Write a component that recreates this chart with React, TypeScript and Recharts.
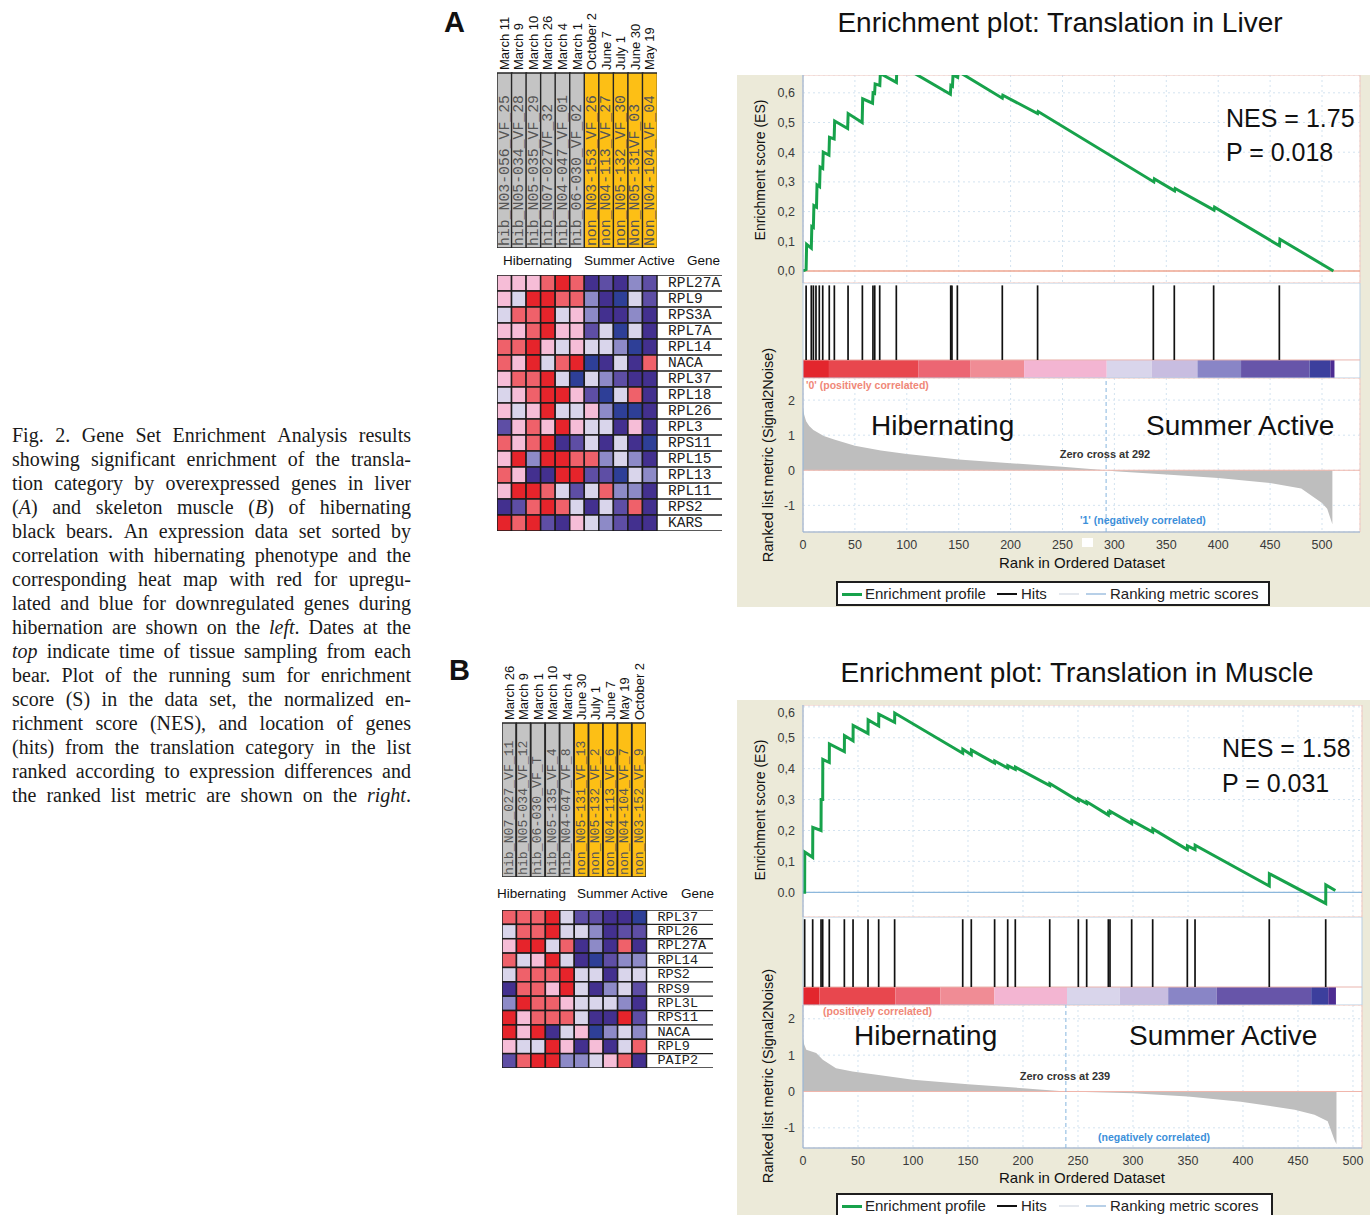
import {
  Area,
  AreaChart,
  Bar,
  BarChart,
  CartesianGrid,
  Cell,
  ComposedChart,
  LabelList,
  Line,
  LineChart,
  ReferenceArea,
  ReferenceLine,
  Scatter,
  ScatterChart,
  XAxis,
  YAxis,
} from 'recharts'

const SANS = '"Liberation Sans", Arial, sans-serif'
const MONO = '"Liberation Mono", monospace'
const SERIF = '"Liberation Serif", "Times New Roman", serif'

const BEIGE = '#ECEAD9'
const GRID = '#D3E3F0'
const AXIS_BLUE = '#8DB8DC'
const FRAME_PINK = '#F2C6BC'
const GREEN = '#17A24B'

// caption, one entry per printed line; *word* is italic
const captionLines = [
  'Fig. 2. Gene Set Enrichment Analysis results',
  'showing significant enrichment of the transla-',
  'tion category by overexpressed genes in liver',
  '(*A*) and skeleton muscle (*B*) of hibernating',
  'black bears. An expression data set sorted by',
  'correlation with hibernating phenotype and the',
  'corresponding heat map with red for upregu-',
  'lated and blue for downregulated genes during',
  'hibernation are shown on the *left*. Dates at the',
  '*top* indicate time of tissue sampling from each',
  'bear. Plot of the running sum for enrichment',
  'score (S) in the data set, the normalized en-',
  'richment score (NES), and location of genes',
  '(hits) from the translation category in the list',
  'ranked according to expression differences and',
  'the ranked list metric are shown on the *right*.',
]

// heat map A (liver)
const datesA = ['March 11', 'March 9', 'March 10', 'March 26', 'March 4', 'March 1', 'October 2', 'June 7', 'July 1', 'June 30', 'May 19']
const samplesA = [
  'hib_N03-056_VF_25', 'hib_N05-034_VF_28', 'hib_N05-035_VF_29', 'hib_N07-027VF_32',
  'hib_N04-047_VF_01', 'hib_06-030_VF_02', 'non_N03-153_VF_26', 'non_N04-113_VF_27',
  'non_N05-132_VF_30', 'Non_N05-131VF_03', 'Non_N04-104_VF_04',
]
const groupsA = ['hib', 'hib', 'hib', 'hib', 'hib', 'hib', 'non', 'non', 'non', 'non', 'non']
const genesA = ['RPL27A', 'RPL9', 'RPS3A', 'RPL7A', 'RPL14', 'NACA', 'RPL37', 'RPL18', 'RPL26', 'RPL3', 'RPS11', 'RPL15', 'RPL13', 'RPL11', 'RPS2', 'KARS']
const cellsA = [
  [1, 1, 1, 2, 3, 2, -3, -2, -3, -1, -2],
  [1, 0, 3, 3, 2, 2, -1, -3, -4, 0, -2],
  [0, 2, 2, 3, 0, 1, -1, -3, -3, -1, -3],
  [1, 1, 2, 3, 1, 1, -2, 0, -4, 0, -3],
  [2, 2, 3, 1, 0, 1, 0, 0, -1, -4, -3],
  [2, 1, 3, 0, 2, 3, -4, -3, 0, -3, 2],
  [1, 2, 2, 3, 0, -4, 0, -1, -2, -3, -3],
  [0, 1, 2, 3, 3, 1, -2, -4, 0, 2, -3],
  [1, 0, 1, 3, 0, 0, 1, -1, -4, -4, -3],
  [-2, 1, 2, 1, 3, 1, 0, 0, -3, 1, -3],
  [2, 1, 2, 3, -3, -2, 0, -3, 0, -3, -4],
  [1, 3, -1, 3, 3, 2, 2, -1, 0, -1, -3],
  [2, 1, -3, -3, 3, 3, -2, -2, -4, 0, -1],
  [1, 3, 3, 2, 0, -2, 0, 2, -1, -1, -3],
  [-3, -2, 2, 3, 2, 0, -3, 0, -2, 2, -3],
  [3, 2, 3, -2, -3, 1, 0, -1, -2, -3, -3],
]

// heat map B (muscle)
const datesB = ['March 26', 'March 9', 'March 1', 'March 10', 'March 4', 'June 30', 'July 1', 'June 7', 'May 19', 'October 2']
const samplesB = [
  'hib_N07_027_VF_11', 'hib_N05-034_VF_12', 'hib_06-030_VF_T', 'hib_N05-135_VF_4',
  'hib_N04-047_VF_8', 'non_N05-131_VF_13', 'non_N05-132_VF_2', 'non_N04-113_VF_6',
  'non_N04-104_VF_7', 'non_N03-152_VF_9',
]
const groupsB = ['hib', 'hib', 'hib', 'hib', 'hib', 'non', 'non', 'non', 'non', 'non']
const genesB = ['RPL37', 'RPL26', 'RPL27A', 'RPL14', 'RPS2', 'RPS9', 'RPL3L', 'RPS11', 'NACA', 'RPL9', 'PAIP2']
const cellsB = [
  [2, 2, 2, 3, 0, -2, -2, -3, -3, -4],
  [0, 2, 2, 3, 0, 0, -1, -3, -2, -2],
  [1, 3, 3, 0, 2, -3, -1, -3, 2, -3],
  [2, 0, 1, 3, 0, -3, -4, -2, -1, -1],
  [0, 2, 2, 2, 3, 0, 0, -3, 0, 0],
  [-3, 2, 2, 1, 3, 0, -3, -1, 0, -2],
  [-1, 3, 2, 2, 1, 0, 0, 0, -1, -3],
  [3, 1, 2, 2, 2, 0, -3, -3, 3, -2],
  [3, 1, 3, -3, 0, 1, -4, -1, 0, -1],
  [1, 0, 0, 3, 1, -3, 1, -3, 0, 2],
  [-2, 2, 3, 3, -1, -1, 0, 1, 2, -3],
]

// enrichment plots
const rankTicks = [0, 50, 100, 150, 200, 250, 300, 350, 400, 450, 500]
const esTicks = [0, 0.1, 0.2, 0.3, 0.4, 0.5, 0.6]
const metricTicks = [-1, 0, 1, 2]

const esA: [number, number][] = [
  [0, 0], [3, 0.005], [3.5, 0.09], [8, 0.077], [8.5, 0.15], [10, 0.147], [10.5, 0.22],
  [13, 0.215], [13.5, 0.29], [16, 0.284], [16.5, 0.35], [19, 0.345], [19.5, 0.4],
  [25, 0.39], [25.5, 0.45], [30, 0.445], [30.5, 0.505], [43, 0.48], [43.5, 0.53],
  [57, 0.5], [57.5, 0.58], [67, 0.565], [67.5, 0.6], [69, 0.598], [69.5, 0.63],
  [74, 0.625], [74.5, 0.665], [90, 0.635], [90.5, 0.7], [142, 0.595], [142.5, 0.625],
  [144, 0.622], [144.5, 0.66], [149, 0.652], [149.5, 0.672], [192, 0.582], [192.5, 0.592],
  [226, 0.53], [226.5, 0.537], [338, 0.3], [338.5, 0.31], [358, 0.27], [358.5, 0.278],
  [396, 0.205], [396.5, 0.215], [459, 0.085], [459.5, 0.107], [511, 0],
]
const hitsA = [3, 8, 10, 12.5, 15.7, 19, 25.3, 30.2, 43.4, 57.2, 67.4, 69.1, 73.9, 89.9, 142.3, 143.5, 148.7, 192, 226, 337.5, 357.7, 395.6, 458.9]
const metricA: [number, number][] = [
  [0, 1.78], [1, 1.6], [3, 1.4], [6, 1.26], [10, 1.15], [20, 0.98], [30, 0.88], [50, 0.7],
  [75, 0.56], [100, 0.46], [150, 0.31], [200, 0.2], [250, 0.1], [292, 0], [300, -0.03],
  [350, -0.12], [400, -0.22], [450, -0.36], [480, -0.52], [500, -0.93], [505, -1.1], [510, -1.54],
]
// colour bar: [from rank, to rank, metric level]
const barA: [number, number, number][] = [
  [0, 25, 5], [25, 111, 4], [111, 161, 3], [161, 213, 2], [213, 292.6, 1], [292.6, 336, 0],
  [336, 380, -1], [380, 422, -2], [422, 488, -3], [488, 508, -4], [508, 512, -5],
]

const esB: [number, number][] = [
  [0, 0], [1.5, 0], [1.6, 0.13], [8.8, 0.113], [8.9, 0.21], [16.4, 0.2], [16.5, 0.3],
  [17.9, 0.3], [18, 0.43], [23.9, 0.42], [24, 0.48], [37.6, 0.455], [37.7, 0.507],
  [45.5, 0.49], [45.6, 0.54], [59.1, 0.514], [59.2, 0.558], [68.8, 0.538], [68.9, 0.576],
  [83.3, 0.55], [83.4, 0.58], [145.2, 0.45], [145.3, 0.463], [153, 0.445], [153.1, 0.46],
  [174.2, 0.418], [174.3, 0.425], [186.1, 0.402], [186.2, 0.41], [193, 0.398], [193.1, 0.405],
  [224.3, 0.345], [224.4, 0.352], [250.3, 0.296], [250.4, 0.302], [257.9, 0.287], [258, 0.293],
  [277.6, 0.25], [277.7, 0.258], [279.1, 0.256], [279.2, 0.262], [298.8, 0.222], [298.9, 0.232],
  [317.9, 0.195], [318, 0.205], [349.4, 0.138], [349.5, 0.15], [356.4, 0.138], [356.5, 0.152],
  [423.9, 0.02], [424, 0.06], [475.2, -0.036], [475.3, 0.024], [484, 0.006],
]
const hitsB = [1.5, 8.8, 16.4, 17.9, 23.9, 37.6, 45.5, 59.1, 68.8, 83.3, 145.2, 153, 174.2, 186.1, 193, 224.3, 250.3, 257.9, 277.6, 279.1, 298.8, 317.9, 349.4, 356.4, 423.9, 475.2]
const metricB: [number, number][] = [
  [0, 1.47], [1, 1.3], [3, 1.15], [12, 1.06], [18, 0.87], [30, 0.64], [45, 0.55], [67, 0.46],
  [100, 0.32], [150, 0.2], [200, 0.09], [239, 0], [300, -0.05], [350, -0.14], [398, -0.28],
  [447, -0.5], [465, -0.64], [477, -0.82], [483, -1.32], [485, -1.45],
]
const barB: [number, number, number][] = [
  [0, 15, 5], [15, 84, 4], [84, 125, 3], [125, 174, 2], [174, 240, 1], [240, 288, 0],
  [288, 332, -1], [332, 376, -2], [376, 462, -3], [462, 477.5, -4], [477.5, 484.5, -5],
]

const barColors: Record<number, string> = {
  5: '#E3262D', 4: '#E8474E', 3: '#EC6673', 2: '#F08C95', 1: '#F3B5D2', 0: '#D9D5EB',
  [-1]: '#C8BDE0', [-2]: '#8985C6', [-3]: '#6755A9', [-4]: '#3C3F9D', [-5]: '#4D2C92',
}

const heatColors: Record<number, string> = {
  3: '#E6242B', 2: '#EF616A', 1: '#F6BDD7', 0: '#D9D5EB',
  [-1]: '#8D8AC7', [-2]: '#5E4EA5', [-3]: '#43308F', [-4]: '#2E3F97',
}

const commaTick = (v: number) => v.toFixed(1).replace('.', ',')

interface PlotSpec {
  top: number
  height: number
  esTop: number
  esHeight: number
  esDomain: [number, number]
  esZeroColor: string
  esTickFormat: (v: number) => string
  xMax: number
  right: number
  hitsHeight: number
  barFrac: number
  metricPlotHeight: number
  metricDomain: [number, number]
  zeroCross: number
  es: [number, number][]
  hits: number[]
  metric: [number, number][]
  bar: [number, number, number][]
}

const plotA: PlotSpec = {
  top: 75,
  height: 532,
  esTop: 0,
  esHeight: 208,
  esDomain: [-0.0404, 0.66],
  esZeroColor: '#EFA690',
  esTickFormat: commaTick,
  xMax: 536.6,
  right: 10,
  hitsHeight: 95,
  barFrac: 0.19,
  metricPlotHeight: 154,
  metricDomain: [-1.76, 2.63],
  zeroCross: 292,
  es: esA,
  hits: hitsA,
  metric: metricA,
  bar: barA,
}

const plotB: PlotSpec = {
  top: 700,
  height: 515,
  esTop: 5,
  esHeight: 212,
  esDomain: [-0.08, 0.606],
  esZeroColor: '#8DB8DC',
  esTickFormat: (v) => (v === 0 ? '0.0' : commaTick(v)),
  xMax: 508.2,
  right: 8,
  hitsHeight: 88,
  barFrac: 0.2045,
  metricPlotHeight: 143,
  metricDomain: [-1.555, 2.38],
  zeroCross: 239,
  es: esB,
  hits: hitsB,
  metric: metricB,
  bar: barB,
}

const tickStyle = { fontSize: 12.5, fill: '#3a3a3a', fontFamily: SANS }

function Txt({
  x,
  y,
  size,
  children,
  anchor = 'start',
  color = '#111',
  weight = 400,
  family = SANS,
  rotate = false,
}: {
  x: number
  y: number
  size: number
  children: React.ReactNode
  anchor?: 'start' | 'middle'
  color?: string
  weight?: number
  family?: string
  rotate?: boolean
}) {
  const shiftX = anchor === 'middle' || rotate ? '-50%' : '0'
  return (
    <div
      style={{
        position: 'absolute',
        left: x,
        top: y,
        fontSize: size,
        lineHeight: 1,
        color,
        fontWeight: weight,
        fontFamily: family,
        whiteSpace: 'nowrap',
        transform: `translate(${shiftX}, -50%)${rotate ? ' rotate(-90deg)' : ''}`,
      }}
    >
      {children}
    </div>
  )
}

function Caption() {
  return (
    <div style={{ position: 'absolute', left: 12, top: 423, width: 399, fontFamily: SERIF, fontSize: 20, color: '#1a1a1a' }}>
      {captionLines.map((line, i) => (
        <div key={i} style={{ display: 'flex', justifyContent: 'space-between', height: 24, lineHeight: '24px', whiteSpace: 'nowrap' }}>
          {line.split(' ').map((word, j) => (
            <span key={j}>
              {word.split('*').map((part, k) => (k % 2 === 1 ? <i key={k}>{part}</i> : <span key={k}>{part}</span>))}
            </span>
          ))}
        </div>
      ))}
    </div>
  )
}

function DateTick({ x, y, payload }: any) {
  return (
    <text
      x={x}
      y={y}
      transform={`rotate(-90 ${x} ${y})`}
      textAnchor="start"
      dominantBaseline="central"
      fontFamily={SANS}
      fontSize={13}
      fill="#111"
    >
      {payload.value}
    </text>
  )
}

function SampleText(props: any) {
  const vb = props.viewBox ?? props
  const x = vb.x + vb.width / 2
  const y = vb.y + vb.height - 2
  return (
    <text
      x={x}
      y={y}
      transform={`rotate(-90 ${x} ${y})`}
      textAnchor="start"
      dominantBaseline="central"
      fontFamily={MONO}
      fontSize={props.size}
      fill="#555"
    >
      {props.value}
    </text>
  )
}

function HeatHeader({
  dates,
  samples,
  groups,
  left,
  top,
  width,
  axisH,
  barH,
  sampleSize,
}: {
  dates: string[]
  samples: string[]
  groups: string[]
  left: number
  top: number
  width: number
  axisH: number
  barH: number
  sampleSize: number
}) {
  const rows = dates.map((date, i) => ({ date, sample: samples[i], group: groups[i], full: 1 }))
  return (
    <div style={{ position: 'absolute', left, top }}>
      <BarChart width={width} height={axisH + barH} data={rows} margin={{ top: 0, right: 0, bottom: 0, left: 0 }} barCategoryGap={0} barGap={0}>
        <XAxis
          dataKey="date"
          orientation="top"
          height={axisH}
          axisLine={false}
          tickLine={false}
          tickSize={0}
          tickMargin={3}
          interval={0}
          tick={(p: any) => <DateTick {...p} />}
        />
        <YAxis hide domain={[0, 1]} />
        <Bar dataKey="full" isAnimationActive={false} stroke="#262626" strokeWidth={1.4}>
          {rows.map((row) => (
            <Cell key={row.sample} fill={row.group === 'hib' ? '#C4C4C4' : '#FDBF15'} />
          ))}
          <LabelList dataKey="sample" content={(p: any) => <SampleText {...p} size={sampleSize} />} />
        </Bar>
      </BarChart>
    </div>
  )
}

function GeneTick({ x, y, payload, genes, cellH, geneW, size }: any) {
  const i = payload.value
  const lineY = y + cellH / 2
  return (
    <g>
      {i === 0 ? <line x1={x} x2={x + geneW - 1} y1={y - cellH / 2} y2={y - cellH / 2} stroke="#222" strokeWidth={1.3} /> : null}
      <text x={x + 11} y={y} dominantBaseline="central" fontFamily={MONO} fontSize={size} fill="#222">
        {genes[i]}
      </text>
      <line x1={x} x2={x + geneW - 1} y1={lineY} y2={lineY} stroke="#222" strokeWidth={1.3} />
    </g>
  )
}

function HeatGrid({
  genes,
  cells,
  left,
  top,
  width,
  height,
  geneW,
  geneSize,
}: {
  genes: string[]
  cells: number[][]
  left: number
  top: number
  width: number
  height: number
  geneW: number
  geneSize: number
}) {
  const nCols = cells[0].length
  const nRows = cells.length
  const points = cells.flatMap((row, r) => row.map((v, c) => ({ c, r, v })))
  const cellW = (width - geneW) / nCols
  const cellH = height / nRows
  return (
    <div style={{ position: 'absolute', left, top }}>
      <ScatterChart width={width} height={height} margin={{ top: 0, right: 0, bottom: 0, left: 0 }}>
        <XAxis dataKey="c" type="number" domain={[-0.5, nCols - 0.5]} hide />
        <YAxis
          dataKey="r"
          type="number"
          domain={[-0.5, nRows - 0.5]}
          reversed
          orientation="right"
          width={geneW}
          ticks={genes.map((_, i) => i)}
          interval={0}
          axisLine={false}
          tickLine={false}
          tickSize={0}
          tickMargin={0}
          tick={(p: any) => <GeneTick {...p} genes={genes} cellH={cellH} geneW={geneW} size={geneSize} />}
        />
        <Scatter
          data={points}
          isAnimationActive={false}
          shape={(p: any) => (
            <rect
              x={p.cx - cellW / 2}
              y={p.cy - cellH / 2}
              width={cellW}
              height={cellH}
              fill={heatColors[p.payload.v]}
              stroke="#1c1c1c"
              strokeWidth={1.5}
            />
          )}
        />
      </ScatterChart>
    </div>
  )
}

function EnrichmentPlot({ spec }: { spec: PlotSpec }) {
  const esRows = spec.es.map(([r, es]) => ({ r, es }))
  const metricRows = spec.metric.map(([r, v]) => ({ r, v }))
  const hitRows = spec.hits.map((r) => ({ r, y: 0.5 }))
  const xDomain: [number, number] = [0, spec.xMax]
  const margin = { top: 0, right: spec.right, bottom: 0, left: 0 }
  const hitsTop = spec.esTop + spec.esHeight
  const metricTop = hitsTop + spec.hitsHeight

  return (
    <div style={{ position: 'absolute', left: 737, top: spec.top, width: 633, height: spec.height, background: BEIGE, overflow: 'hidden' }}>
      <div style={{ position: 'absolute', left: 0, top: spec.esTop }}>
        <LineChart width={633} height={spec.esHeight} data={esRows} margin={margin}>
          <CartesianGrid fill="#fff" stroke={GRID} strokeDasharray="2 3" />
          <XAxis dataKey="r" type="number" domain={xDomain} ticks={rankTicks} hide allowDataOverflow />
          <YAxis
            type="number"
            domain={spec.esDomain}
            ticks={esTicks}
            allowDataOverflow
            width={66}
            tickFormatter={spec.esTickFormat}
            tick={tickStyle}
            tickLine={false}
            axisLine={{ stroke: AXIS_BLUE }}
          />
          <ReferenceArea x1={0} x2={spec.xMax} y1={spec.esDomain[0]} y2={spec.esDomain[1]} fill="none" stroke={FRAME_PINK} strokeOpacity={1} />
          <ReferenceLine y={0} stroke={spec.esZeroColor} strokeWidth={1.3} />
          <Line dataKey="es" type="linear" stroke={GREEN} strokeWidth={3} dot={false} activeDot={false} isAnimationActive={false} />
        </LineChart>
      </div>

      <div style={{ position: 'absolute', left: 0, top: hitsTop }}>
        <ComposedChart width={633} height={spec.hitsHeight} data={hitRows} margin={{ top: 0, right: spec.right, bottom: 0, left: 66 }}>
          <CartesianGrid fill="#fff" horizontal={false} vertical={false} />
          <XAxis dataKey="r" type="number" domain={xDomain} hide allowDataOverflow />
          <YAxis type="number" domain={[0, 1]} hide allowDataOverflow />
          {spec.bar.map(([from, to, level]) => (
            <ReferenceArea key={from} x1={from} x2={to} y1={0} y2={spec.barFrac} fill={barColors[level]} fillOpacity={1} stroke="none" />
          ))}
          <ReferenceArea x1={0} x2={spec.xMax} y1={0} y2={1} fill="none" stroke="#B9CEE2" strokeOpacity={1} />
          <ReferenceLine y={spec.barFrac} stroke="#E9B5AE" />
          {spec.hits.map((h) => (
            <ReferenceLine
              key={h}
              segment={[
                { x: h, y: spec.barFrac },
                { x: h, y: 0.975 },
              ]}
              stroke="#111"
              strokeWidth={1.7}
            />
          ))}
          <Line dataKey="y" stroke="none" dot={false} activeDot={false} isAnimationActive={false} />
        </ComposedChart>
      </div>

      <div style={{ position: 'absolute', left: 0, top: metricTop }}>
        <AreaChart width={633} height={spec.metricPlotHeight + 45} data={metricRows} margin={margin}>
          <CartesianGrid fill="#fff" stroke={GRID} strokeDasharray="2 3" />
          <XAxis
            dataKey="r"
            type="number"
            domain={xDomain}
            ticks={rankTicks}
            allowDataOverflow
            height={45}
            tickLine={false}
            axisLine={{ stroke: AXIS_BLUE }}
            tick={tickStyle}
          />
          <YAxis
            type="number"
            domain={spec.metricDomain}
            ticks={metricTicks}
            allowDataOverflow
            width={66}
            tick={tickStyle}
            tickLine={false}
            axisLine={{ stroke: AXIS_BLUE }}
          />
          <ReferenceArea x1={0} x2={spec.xMax} y1={spec.metricDomain[0]} y2={spec.metricDomain[1]} fill="none" stroke={FRAME_PINK} strokeOpacity={1} />
          <Area dataKey="v" type="linear" baseValue={0} fill="#BEBEBE" fillOpacity={1} stroke="none" isAnimationActive={false} />
          <ReferenceLine y={0} stroke="#F0B6AC" />
          <ReferenceLine x={spec.zeroCross} stroke="#86B6DE" strokeDasharray="4 3" />
        </AreaChart>
      </div>
    </div>
  )
}

function PlotLegend({ left, top, width }: { left: number; top: number; width: number }) {
  const mark = (x: number, color: string, h: number) => (
    <div style={{ position: 'absolute', left: x, top: 11 - h / 2, width: 20, height: h, background: color }} />
  )
  const label = (x: number, text: string) => (
    <div style={{ position: 'absolute', left: x, top: 0, lineHeight: '21px' }}>{text}</div>
  )
  return (
    <div
      style={{
        position: 'absolute',
        left,
        top,
        width,
        height: 25,
        border: '2px solid #1e1e1e',
        background: '#fff',
        boxSizing: 'border-box',
        fontFamily: SANS,
        fontSize: 15,
        color: '#222',
      }}
    >
      {mark(4, GREEN, 3)}
      {label(27, 'Enrichment profile')}
      {mark(159, '#111', 1.5)}
      {label(183, 'Hits')}
      {mark(221, '#E4E8EE', 1.5)}
      {mark(248, '#B8D0E8', 1.5)}
      {label(272, 'Ranking metric scores')}
    </div>
  )
}

export default function App() {
  return (
    <div style={{ position: 'absolute', left: 0, top: 0, width: 1372, height: 1215, background: '#fff', overflow: 'hidden' }}>
      <Caption />

      <Txt x={444} y={22} size={29} weight={700}>A</Txt>
      <Txt x={449} y={670} size={29} weight={700}>B</Txt>

      <HeatHeader dates={datesA} samples={samplesA} groups={groupsA} left={497} top={0} width={160} axisH={73} barH={175} sampleSize={14.8} />
      <Txt x={503} y={261} size={13.5}>Hibernating</Txt>
      <Txt x={584} y={261} size={13.5}>Summer Active</Txt>
      <Txt x={687} y={261} size={13.5}>Gene</Txt>
      <HeatGrid genes={genesA} cells={cellsA} left={497} top={275} width={226} height={256} geneW={66} geneSize={14.5} />

      <HeatHeader dates={datesB} samples={samplesB} groups={groupsB} left={501.7} top={650} width={144.5} axisH={73} barH={154} sampleSize={13.2} />
      <Txt x={497} y={894} size={13.5}>Hibernating</Txt>
      <Txt x={577} y={894} size={13.5}>Summer Active</Txt>
      <Txt x={681} y={894} size={13.5}>Gene</Txt>
      <HeatGrid genes={genesB} cells={cellsB} left={501.7} top={910} width={212} height={158} geneW={67.5} geneSize={13.5} />

      {/* plot A */}
      <Txt x={1060} y={23} size={28} anchor="middle">Enrichment plot: Translation in Liver</Txt>
      <EnrichmentPlot spec={plotA} />
      <Txt x={760} y={170} size={14} rotate>Enrichment score (ES)</Txt>
      <Txt x={768} y={455} size={14.5} rotate>Ranked list metric (Signal2Noise)</Txt>
      <Txt x={1082} y={562} size={15} anchor="middle">Rank in Ordered Dataset</Txt>
      <Txt x={1226} y={118} size={25}>NES = 1.75</Txt>
      <Txt x={1226} y={152} size={25}>P = 0.018</Txt>
      <Txt x={871} y={426} size={28}>Hibernating</Txt>
      <Txt x={1146} y={426} size={28}>Summer Active</Txt>
      <Txt x={1105} y={454} size={11} anchor="middle" weight={700} color="#333">Zero cross at 292</Txt>
      <Txt x={806} y={385} size={10.5} color="#F08878" weight={700}>'0' (positively correlated)</Txt>
      <Txt x={1080} y={520} size={10.5} color="#3C8FDA" weight={700}>'1' (negatively correlated)</Txt>
      <div style={{ position: 'absolute', left: 1082, top: 538, width: 11, height: 9, background: '#fff' }} />
      <PlotLegend left={836} top={581} width={434} />

      {/* plot B */}
      <Txt x={1077} y={673} size={28} anchor="middle">Enrichment plot: Translation in Muscle</Txt>
      <EnrichmentPlot spec={plotB} />
      <Txt x={760} y={810} size={14} rotate>Enrichment score (ES)</Txt>
      <Txt x={768} y={1076} size={14.5} rotate>Ranked list metric (Signal2Noise)</Txt>
      <Txt x={1082} y={1177} size={15} anchor="middle">Rank in Ordered Dataset</Txt>
      <Txt x={1222} y={748} size={25}>NES = 1.58</Txt>
      <Txt x={1222} y={783} size={25}>P = 0.031</Txt>
      <Txt x={854} y={1036} size={28}>Hibernating</Txt>
      <Txt x={1129} y={1036} size={28}>Summer Active</Txt>
      <Txt x={1065} y={1076} size={11} anchor="middle" weight={700} color="#333">Zero cross at 239</Txt>
      <Txt x={823} y={1011} size={10.5} color="#F08878" weight={700}>(positively correlated)</Txt>
      <Txt x={1098} y={1137} size={10.5} color="#3C8FDA" weight={700}>(negatively correlated)</Txt>
      <div style={{ position: 'absolute', left: 1081, top: 1132, width: 14, height: 10, background: '#fff' }} />
      <PlotLegend left={836} top={1193} width={437} />
    </div>
  )
}
